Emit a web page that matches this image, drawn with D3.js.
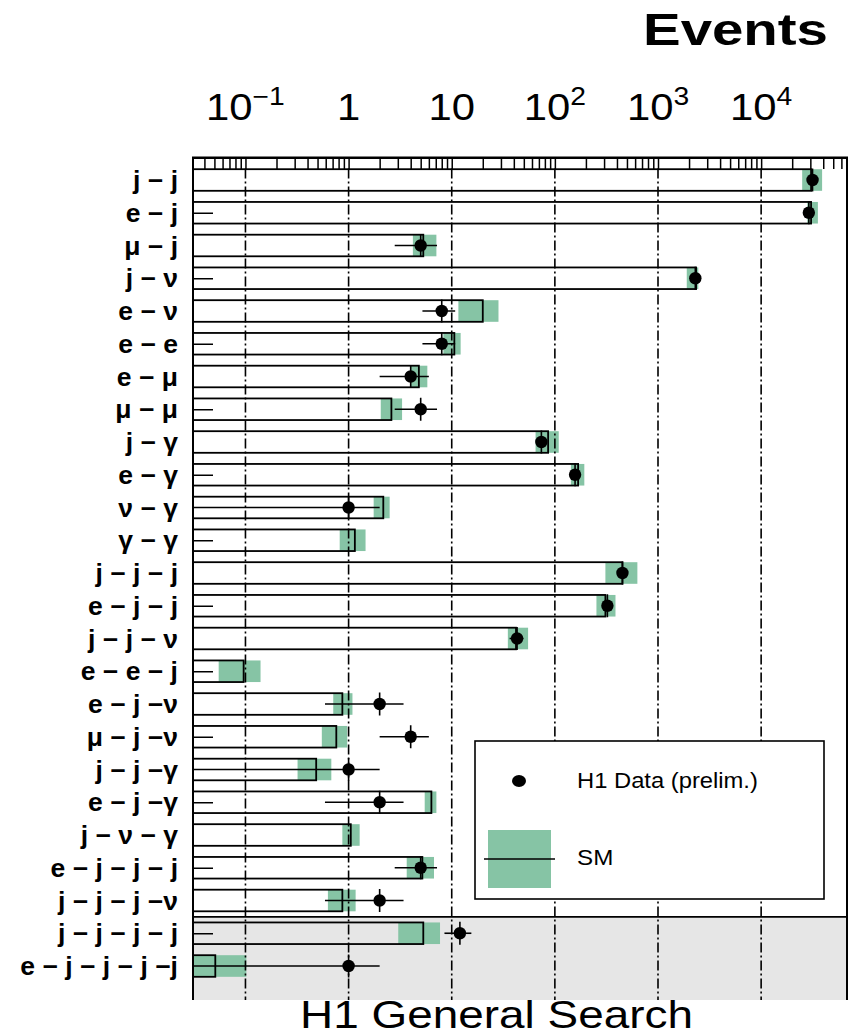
<!DOCTYPE html>
<html>
<head>
<meta charset="utf-8">
<script src="https://cdn.jsdelivr.net/npm/d3@7"></script>
<style>
  body { margin: 0; background: #fff; }
  svg { display: block; }
  text { font-family: "Liberation Sans", Arial, Helvetica, sans-serif; fill: #000; }
</style>
</head>
<body>
<svg id="chart" width="854" height="1036"></svg>
<script>
// Event classes (final states) from top to bottom
const channels = [
  "j − j", "e − j", "μ − j", "j − ν", "e − ν", "e − e", "e − μ", "μ − μ",
  "j − γ", "e − γ", "ν − γ", "γ − γ", "j − j − j", "e − j − j", "j − j − ν",
  "e − e − j", "e − j −ν", "μ − j −ν", "j − j −γ", "e − j −γ", "j − ν − γ",
  "e − j − j − j", "j − j − j −ν", "j − j − j − j", "e − j − j − j −j"
];

// Standard Model expectation and its uncertainty band
const smValue = [30500, 30500, 5.3, 2340, 20, 10.6, 4.8, 2.6,
  86, 168, 2.17, 1.15, 452, 309, 42,
  0.096, 0.87, 0.76, 0.485, 6.35, 1.05,
  5.19, 0.87, 5.3, 0.051];
const smLow = [25000, 28000, 4.2, 1900, 11.6, 8.3, 4.0, 2.05,
  65, 143, 1.75, 0.82, 309, 253, 35,
  0.055, 0.71, 0.55, 0.32, 5.47, 0.87,
  3.66, 0.63, 3.03, 0];
const smHigh = [39000, 35500, 7.1, 2460, 28.4, 12.2, 5.8, 3.3,
  109, 193, 2.5, 1.46, 631, 387, 55,
  0.14, 1.09, 0.97, 0.68, 7.1, 1.28,
  6.73, 1.17, 7.7, 0.102];

// Observed events with error bar ends (0 events: no marker)
const dataCount = [31500, 29000, 5, 2300, 8, 8, 4, 5,
  74, 157, 1, 0, 452, 323, 43,
  0, 2, 4, 1, 2, 0,
  5, 2, 12, 1];
const dataLow = [31300, 28800, 2.8, 2250, 5.2, 5.2, 2, 2.8,
  65.4, 144.5, 0, 0, 431, 305, 36.4,
  0, 0.59, 2, 0, 0.59, 0,
  2.8, 0.59, 8.5, 0];
const dataHigh = [31700, 29200, 7.2, 2350, 10.8, 10.8, 6, 7.2,
  82.6, 169.5, 2, 0, 473, 341, 49.6,
  0, 3.41, 6, 2, 3.41, 0,
  7.2, 3.41, 15.5, 2];

// Top axis labels
const tickValues = [0.1, 1, 10, 100, 1000, 10000];
const tickBase = ["10", "1", "10", "10", "10", "10"];
const tickExp = ["−1", "", "", "2", "3", "4"];

// Number of classes in the lower (shaded) panel
const shadedRows = 2;

const svg = d3.select("#chart");
const plotLeft = 193, plotRight = 847, plotTop = 157.5, plotBottom = 1000;
const green = "#86c4a5";

const x = d3.scaleLog().domain([0.031, 68000]).range([plotLeft, plotRight]);
const y = d3.scalePoint().domain(channels).range([180, 966]);
const step = y.step();
const barH = 21.6;
const xc = v => x(Math.max(v, x.domain()[0]));

// widen text horizontally by a factor
function stretch(sel, f) {
  sel.each(function () {
    const w = this.getComputedTextLength();
    d3.select(this).attr("textLength", w * f).attr("lengthAdjust", "spacingAndGlyphs");
  });
}

// shaded lower panel
const sepY = y(channels[channels.length - shadedRows]) - step / 2;
svg.append("rect").attr("x", plotLeft).attr("y", sepY).attr("width", plotRight - plotLeft)
  .attr("height", plotBottom - sepY).attr("fill", "#e6e6e6");

const rows = channels.map((c, i) => ({
  c, sm: smValue[i], lo: smLow[i], hi: smHigh[i],
  n: dataCount[i], dlo: dataLow[i], dhi: dataHigh[i]
}));

// SM uncertainty bands
svg.append("g").selectAll("rect").data(rows).join("rect")
  .attr("x", d => xc(d.lo)).attr("width", d => xc(d.hi) - xc(d.lo))
  .attr("y", d => y(d.c) - barH / 2).attr("height", barH)
  .attr("fill", green);

// decade grid lines
svg.append("g").selectAll("line").data(tickValues).join("line")
  .attr("x1", d => x(d)).attr("x2", d => x(d))
  .attr("y1", plotTop + 11).attr("y2", plotBottom)
  .attr("stroke", "#000").attr("stroke-width", 1.6)
  .attr("stroke-dasharray", "10,3,2,3");

// SM bars (outline only)
svg.append("g").selectAll("rect").data(rows).join("rect")
  .attr("x", plotLeft).attr("width", d => x(d.sm) - plotLeft)
  .attr("y", d => y(d.c) - barH / 2).attr("height", barH)
  .attr("fill", "none").attr("stroke", "#000").attr("stroke-width", 1.8);

// panel separator
svg.append("line").attr("x1", plotLeft).attr("x2", plotRight).attr("y1", sepY).attr("y2", sepY)
  .attr("stroke", "#000").attr("stroke-width", 1.6);

// left inner ticks on every second class
const yAxis = d3.axisRight(y).tickValues(channels.filter((d, i) => i % 2 === 1))
  .tickSize(20).tickFormat("");
const gy = svg.append("g").attr("transform", `translate(${plotLeft},0)`).call(yAxis);
gy.select(".domain").remove();
gy.selectAll(".tick line").attr("stroke", "#000").attr("stroke-width", 1.5);

// legend
const lg = svg.append("g");
lg.append("rect").attr("x", 475).attr("y", 741).attr("width", 349).attr("height", 158)
  .attr("fill", "#fff").attr("stroke", "#000").attr("stroke-width", 1.6);
lg.append("ellipse").attr("cx", 519).attr("cy", 781).attr("rx", 7).attr("ry", 6).attr("fill", "#000");
lg.append("rect").attr("x", 488).attr("y", 830).attr("width", 63).attr("height", 58).attr("fill", green);
lg.append("line").attr("x1", 484).attr("x2", 555).attr("y1", 859).attr("y2", 859)
  .attr("stroke", "#000").attr("stroke-width", 1.6);
lg.append("text").attr("x", 577).attr("y", 788).attr("font-size", 22).text("H1 Data (prelim.)")
  .call(stretch, 1.08);
lg.append("text").attr("x", 577).attr("y", 865).attr("font-size", 22).text("SM")
  .call(stretch, 1.1);

// data points with error bars
const pts = svg.append("g").selectAll("g").data(rows.filter(d => d.n > 0)).join("g");
pts.append("line")
  .attr("x1", d => xc(d.dlo)).attr("x2", d => xc(d.dhi))
  .attr("y1", d => y(d.c)).attr("y2", d => y(d.c))
  .attr("stroke", "#000").attr("stroke-width", 1.6);
pts.append("line")
  .attr("x1", d => x(d.n)).attr("x2", d => x(d.n))
  .attr("y1", d => y(d.c) - 11.5).attr("y2", d => y(d.c) + 11.5)
  .attr("stroke", "#000").attr("stroke-width", 1.6);
pts.append("circle").attr("cx", d => x(d.n)).attr("cy", d => y(d.c)).attr("r", 6.2).attr("fill", "#000");

// frame
svg.append("path")
  .attr("d", `M${plotLeft},${plotBottom}V${plotTop}H${plotRight}V${plotBottom}`)
  .attr("fill", "none").attr("stroke", "#000").attr("stroke-width", 2);

// top axis with minor ticks pointing inward
const xAxis = d3.axisBottom(x).tickValues(x.ticks()).tickSize(11.5).tickSizeOuter(0).tickFormat("");
const gx = svg.append("g").attr("transform", `translate(0,${plotTop})`).call(xAxis);
gx.select(".domain").attr("stroke-width", 2);
gx.selectAll(".tick line").attr("stroke", "#000").attr("stroke-width", 1.5);

// axis labels with exponents
const tl = svg.append("g").selectAll("text").data(tickValues).join("text")
  .attr("x", d => x(d)).attr("y", 120).attr("text-anchor", "middle").attr("font-size", 37);
tl.append("tspan").text((d, i) => tickBase[i]);
tl.append("tspan").attr("font-size", 25).attr("dy", -15).text((d, i) => tickExp[i]);
tl.call(stretch, 1.13);

// class labels
svg.append("g").selectAll("text").data(channels).join("text")
  .attr("x", 178).attr("y", d => y(d)).attr("dy", "0.36em")
  .attr("text-anchor", "end").attr("font-size", 25).attr("font-weight", "bold")
  .text(d => d).call(stretch, 1.06);

// titles
svg.append("text").attr("x", 828).attr("y", 45).attr("text-anchor", "end")
  .attr("font-size", 45).attr("font-weight", "bold").text("Events")
  .attr("textLength", 185).attr("lengthAdjust", "spacingAndGlyphs");
svg.append("text").attr("x", 300).attr("y", 1028)
  .attr("font-size", 39).text("H1 General Search")
  .attr("textLength", 393).attr("lengthAdjust", "spacingAndGlyphs");
</script>
</body>
</html>
